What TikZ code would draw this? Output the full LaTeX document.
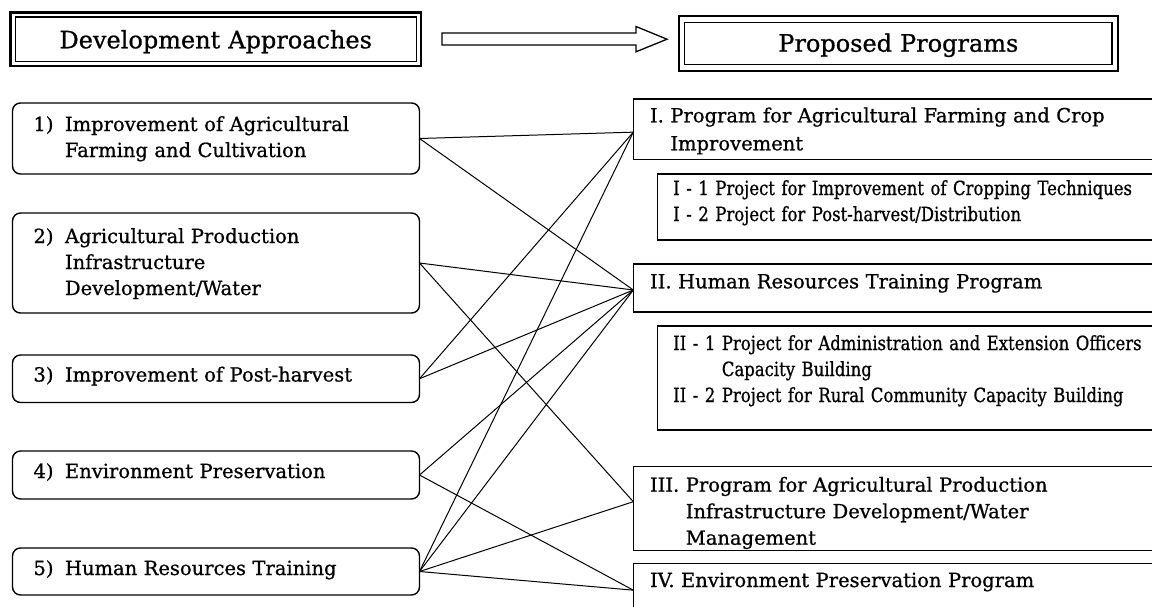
\documentclass[tikz,border=0pt]{standalone}
\usepackage{fontspec}
\setmainfont[FakeBold=0.8]{DejaVu Serif}
\newfontfamily\subfont[FakeStretch=0.845,FakeBold=0.8]{DejaVu Serif}

\begin{document}
\begin{tikzpicture}[x=1pt,y=-1pt,
  every node/.style={outer sep=0pt, inner ysep=0pt},
  header/.style={draw, line width=2.4pt, anchor=north west, inner xsep=0pt,
    align=center, font=\fontsize{24}{30}\selectfont},
  approach/.style={draw, line width=1.4pt, rounded corners=8pt, anchor=north west,
    inner xsep=21pt, text width=365pt, align=left, font=\fontsize{19.5}{26}\selectfont},
  program/.style={draw, line width=1.4pt, anchor=north west, inner xsep=16.7pt,
    text width=503pt, align=left, font=\fontsize{19.5}{26}\selectfont},
  project/.style={draw, line width=1.4pt, anchor=north west, inner xsep=16pt,
    text width=481pt, align=left, font=\subfont\fontsize{19.5}{26}\selectfont},
  innerframe/.style={line width=1.3pt},
  link/.style={line width=1pt},
  blockarrow/.style={draw, line width=1.3pt, fill=white, line join=miter}
]
\useasboundingbox (0,0) rectangle (1152,606);
\clip (0,0) rectangle (1152,606);

% column headers with double frames
\node[header, text width=410.5pt, text height=36pt, text depth=17.7pt] (H1) at (10.5,12.3) {Development Approaches};
\draw[innerframe] ([shift={(4.7pt,-4.7pt)}]H1.north west) rectangle ([shift={(-4.7pt,4.7pt)}]H1.south east);
\node[header, text width=439.3pt, text height=35.9pt, text depth=19.3pt] (H2) at (678.7,15.8) {Proposed Programs};
\draw[innerframe] ([shift={(6pt,-6.5pt)}]H2.north west) rectangle ([shift={(-6pt,6.5pt)}]H2.south east);

% hollow block arrow between the headers
\draw[blockarrow] (442,33) -- (636,33) -- (636,26.5) -- (667,39.2) -- (636,51.8) -- (636,45) -- (442,45) -- cycle;

% development approaches
\node[approach, text height=28pt, text depth=43pt] (B1) at (12.5,103)
  {\begin{tabular}[t]{@{}p{31.5pt}@{}l@{}}1) & Improvement of Agricultural\\ & Farming and Cultivation\end{tabular}};
\node[approach, text height=30pt, text depth=70pt] (B2) at (12.5,213)
  {\begin{tabular}[t]{@{}p{31.5pt}@{}l@{}}2) & Agricultural Production\\ & Infrastructure\\ & Development/Water\end{tabular}};
\node[approach, text height=26.5pt, text depth=21pt] (B3) at (12.5,355)
  {\begin{tabular}[t]{@{}p{31.5pt}@{}l@{}}3) & Improvement of Post-harvest\end{tabular}};
\node[approach, text height=27pt, text depth=21pt] (B4) at (12.5,451)
  {\begin{tabular}[t]{@{}p{31.5pt}@{}l@{}}4) & Environment Preservation\end{tabular}};
\node[approach, text height=27pt, text depth=20pt] (B5) at (12.5,548)
  {\begin{tabular}[t]{@{}p{31.5pt}@{}l@{}}5) & Human Resources Training\end{tabular}};

% proposed programs and their projects
\node[program, text height=23.3pt, text depth=37pt] (PI) at (633.3,99)
  {\begin{tabular}[t]{@{}l@{ }l@{}}I. & Program for Agricultural Farming and Crop\\[2pt] & Improvement\end{tabular}};
\node[project, text height=21pt, text depth=45pt] (S1) at (657.3,174)
  {I - 1 Project for Improvement of Cropping Techniques\\I - 2 Project for Post-harvest/Distribution};
\node[program, text height=24.3pt, text depth=23.7pt] (PII) at (633.3,264)
  {II. Human Resources Training Program};
\node[project, text height=24pt, text depth=80pt] (S2) at (657.3,326)
  {\begin{tabular}[t]{@{}l@{ }l@{}}II - 1 & Project for Administration and Extension Officers\\ & Capacity Building\\ II - 2 & Project for Rural Community Capacity Building\end{tabular}};
\node[program, text height=25pt, text depth=59pt] (PIII) at (633.3,466.7)
  {\begin{tabular}[t]{@{}l@{ }l@{}}III. & Program for Agricultural Production\\[0.5pt] & Infrastructure Development/Water\\[0.5pt] & Management\end{tabular}};
\node[program, text height=23.7pt, text depth=30pt] (PIV) at (633.3,563.3)
  {IV. Environment Preservation Program};

% ports on the programs where the links meet
\coordinate (pI) at ([yshift=-3pt]PI.west);
\coordinate (pII) at ([yshift=-2pt]PII.west);
\coordinate (pIII) at ([yshift=7pt]PIII.west);
\coordinate (pIV) at (PIV.west);

% links between approaches and programs
\draw[link] (B1.east) -- (pI);
\draw[link] (B1.east) -- (pII);
\draw[link] (B2.east) -- (pII);
\draw[link] (B2.east) -- (pIII);
\draw[link] (B3.east) -- (pI);
\draw[link] (B3.east) -- (pII);
\draw[link] (B4.east) -- (pII);
\draw[link] (B4.east) -- (pIV);
\draw[link] (B5.east) -- (pI);
\draw[link] (B5.east) -- (pII);
\draw[link] (B5.east) -- (pIII);
\draw[link] (B5.east) -- (pIV);
\end{tikzpicture}
\end{document}
